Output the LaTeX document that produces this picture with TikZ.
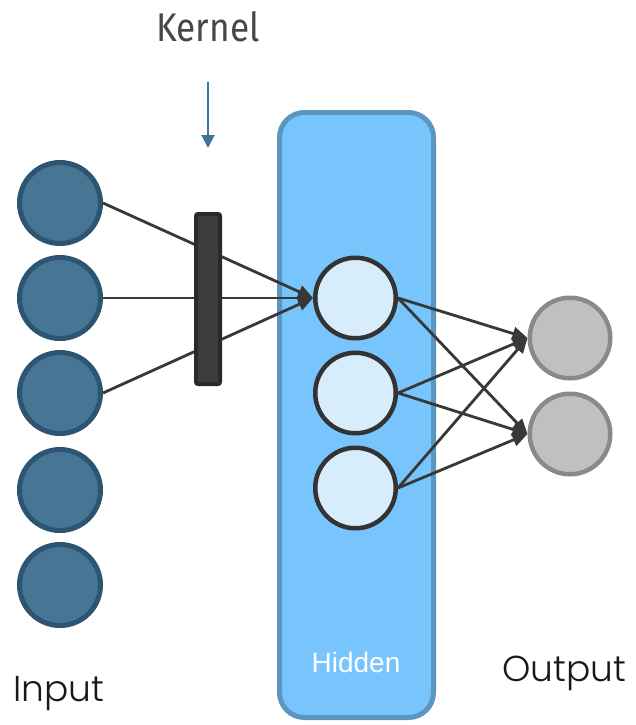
\documentclass[tikz,border=0pt]{standalone}
\usepackage{fontspec}
\usetikzlibrary{arrows.meta}
\newfontfamily\kernfont{Fira Sans}
\newfontfamily\popfont{Poppins Light}
\newfontfamily\arialfont{Liberation Sans}
\definecolor{inFill}{HTML}{467693}
\definecolor{inDraw}{HTML}{2D5470}
\definecolor{hidFill}{HTML}{D8EDFC}
\definecolor{hidDraw}{HTML}{333333}
\definecolor{outFill}{HTML}{C0C0C0}
\definecolor{outDraw}{HTML}{8A8A8A}
\definecolor{rectFill}{HTML}{78C5FD}
\definecolor{rectDraw}{HTML}{5A96BF}
\definecolor{kerFill}{HTML}{3D3D3D}
\definecolor{kerDraw}{HTML}{2A2A2A}
\definecolor{lineCol}{HTML}{383838}
\definecolor{kArrow}{HTML}{41759A}
\definecolor{kText}{HTML}{474747}
\tikzset{
  inneuron/.style={circle, fill=inFill, draw=inDraw, line width=5pt, minimum size=81pt, inner sep=0pt},
  hidneuron/.style={circle, fill=hidFill, draw=hidDraw, line width=4.5pt, minimum size=80.5pt, inner sep=0pt},
  outneuron/.style={circle, fill=outFill, draw=outDraw, line width=4.5pt, minimum size=80.5pt, inner sep=0pt},
  conn/.style={draw=lineCol, line width=2.8pt, -{Triangle[length=15pt,width=13pt]}},
}
\begin{document}
\begin{tikzpicture}[x=1pt,y=-1pt]
\useasboundingbox (0,0) rectangle (635,725);
\fill[white] (0,0) rectangle (635,725);
% hidden layer box
\node[draw=rectDraw, fill=rectFill, line width=5pt, rounded corners=25pt,
      minimum width=154pt, minimum height=605pt, inner sep=0pt] (hbox) at (356.5,415) {};
\node[text=white, font=\arialfont\fontsize{28}{30}\selectfont] (hlabel) at (356,662) {Hidden};
% input neurons
\node[inneuron] (i1) at (60,203) {};
\node[inneuron] (i2) at (60,298) {};
\node[inneuron] (i3) at (60,393) {};
\node[inneuron] (i4) at (60,490) {};
\node[inneuron] (i5) at (60,585) {};
% hidden neurons
\node[hidneuron] (h1) at (355.5,298) {};
\node[hidneuron] (h2) at (355.5,393) {};
\node[hidneuron] (h3) at (355.5,488) {};
% output neurons
\node[outneuron] (o1) at (570,338) {};
\node[outneuron] (o2) at (570,434) {};
% connections input -> hidden
\draw[conn] (i1.east) -- (h1.west);
\draw[conn] (i2.east) -- (h1.west);
\draw[conn] (i3.east) -- (h1.west);
% kernel bar
\node[draw=kerDraw, fill=kerFill, line width=4pt, rounded corners=2pt,
      minimum width=24pt, minimum height=170pt, inner sep=0pt] (kern) at (208,299) {};
% hidden -> output
\foreach \h in {h1,h2,h3}{
  \foreach \o in {o1,o2}{
    \draw[conn] (\h.east) -- (\o.west);
  }
}
% kernel label and arrow
\node[text=kText, font=\kernfont\fontsize{40}{42}\selectfont, xscale=0.88] (klabel) at (208,27) {Kernel};
\coordinate (ka) at (208,82);
\coordinate (kb) at (208,148);
\draw[draw=kArrow, line width=2pt, -{Triangle[length=13pt,width=13pt]}] (ka) -- (kb);
% labels
\node[text=black!90, font=\popfont\fontsize{36}{40}\selectfont] (inlabel) at (59,694) {Input};
\node[text=black!90, font=\popfont\fontsize{36}{40}\selectfont] (outlabel) at (564,673) {Output};
\end{tikzpicture}
\end{document}
